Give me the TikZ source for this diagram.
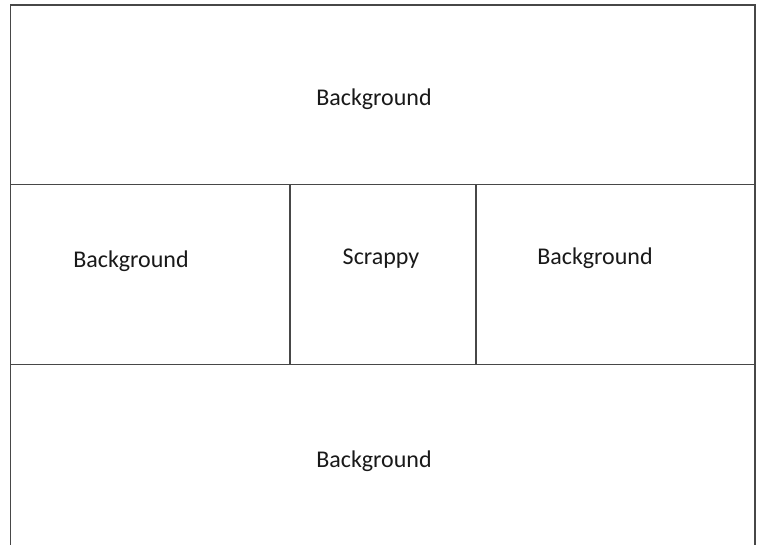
\documentclass[tikz,border=0pt]{standalone}
\usepackage{fontspec}
\setmainfont{Carlito}
\begin{document}
\begin{tikzpicture}[x=1pt,y=-1pt,
  frame/.style={draw=black!72,line width=1.4pt},
  label/.style={font=\fontsize{24}{26}\selectfont,text=black!90,inner sep=0pt}]
\useasboundingbox (0,0) rectangle (763,544);
\fill[white] (0,0) rectangle (763,544);
% outer frame (open at bottom)
\draw[frame] (10.5,546) -- (10.5,5) -- (755,5) -- (755,546);
% horizontal dividers
\draw[frame] (10.5,184.5) -- (755,184.5);
\draw[frame] (10.5,364.5) -- (755,364.5);
% vertical dividers
\draw[frame] (290,184.5) -- (290,364.5);
\draw[frame] (476,184.5) -- (476,364.5);
% labels
\node[label] (top) at (374,99) {Background};
\node[label] (left) at (131,261) {Background};
\node[label] (mid) at (381,259) {Scrappy};
\node[label] (right) at (595,258) {Background};
\node[label] (bottom) at (374,461) {Background};
\end{tikzpicture}
\end{document}
